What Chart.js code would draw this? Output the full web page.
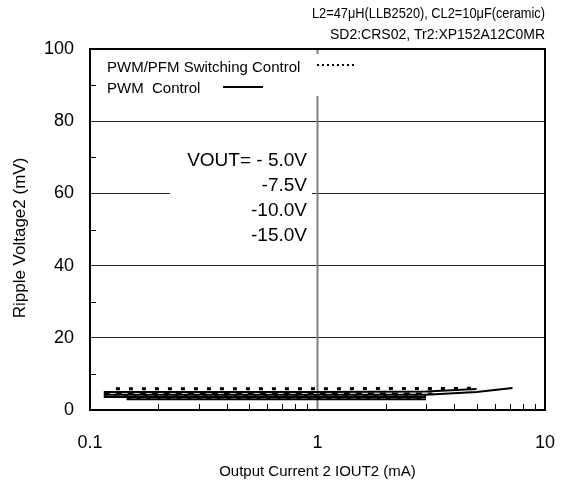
<!DOCTYPE html>
<html>
<head>
<meta charset="utf-8">
<script src="https://cdn.jsdelivr.net/npm/chart.js@4"></script>
<style>
  html, body { margin: 0; padding: 0; background: #fff; }
  #wrap { width: 563px; height: 492px; }
</style>
</head>
<body>
<div id="wrap"><canvas id="ripple" width="563" height="492"></canvas></div>
<script>
// axis ticks
const xTicks = [0.1, 1, 10];
const xMinor = [0.2, 0.3, 0.4, 0.5, 0.6, 0.7, 0.8, 0.9, 2, 3, 4, 5, 6, 7, 8, 9];
const yTicks = [0, 20, 40, 60, 80, 100];
const yMinor = [10, 30, 50, 70, 90];

// PWM control (solid)
const pwm50X = [0.115, 0.5, 1, 3.0, 5.0, 7.2];
const pwm50Y = [4.2, 4.2, 4.2, 4.2, 5.0, 6.1];
const pwm75X = [0.115, 1, 3.0, 5.0];
const pwm75Y = [5.0, 5.0, 5.1, 5.8];
const pwm100X = [0.115, 1, 3.0];
const pwm100Y = [3.6, 3.6, 3.6];
const pwm150X = [0.145, 1, 3.0];
const pwm150Y = [3.0, 3.0, 3.0];

// PWM/PFM switching control (dotted)
const pfm50X = [0.13, 1, 5.0];
const pfm50Y = [5.9, 5.9, 6.0];
const pfm75X = [0.115, 1, 3.2];
const pfm75Y = [4.6, 4.6, 4.6];
const pfm100X = [0.115, 1, 3.0];
const pfm100Y = [3.8, 3.8, 3.8];
const pfm150X = [0.145, 1, 3.0];
const pfm150Y = [3.1, 3.1, 3.1];

const headLines = ['L2=47\u03bcH(LLB2520), CL2=10\u03bcF(ceramic)', 'SD2:CRS02, Tr2:XP152A12C0MR'];
const voutLabels = ['VOUT= - 5.0V', '-7.5V', '-10.0V', '-15.0V'];

function pts(xs, ys) {
  return xs.map((x, i) => ({ x: x, y: ys[i] }));
}

function solid(label, xs, ys) {
  return { label, data: pts(xs, ys), borderColor: '#000', borderWidth: 2, pointRadius: 0, tension: 0, fill: false };
}

function dotted(label, xs, ys, w, dash) {
  return { label, data: pts(xs, ys), borderColor: '#000', borderWidth: w, borderDash: dash, pointRadius: 0, tension: 0, fill: false, borderCapStyle: 'butt' };
}

const FONT = '"Liberation Sans", Arial, sans-serif';

const decor = {
  id: 'decor',
  beforeDatasetsDraw(chart) {
    const { ctx, chartArea: a, scales: { x, y } } = chart;
    ctx.save();
    // VOUT box hides part of the 60 grid line
    ctx.fillStyle = '#fff';
    ctx.fillRect(170, 138, 142, 112);
    ctx.fillStyle = '#000';
    ctx.font = '19px ' + FONT;
    ctx.textAlign = 'right';
    ctx.textBaseline = 'middle';
    voutLabels.forEach((t, i) => ctx.fillText(t, 307, 161 + i * 25));

    // vertical line at 1 mA
    const x1 = x.getPixelForValue(1);
    ctx.strokeStyle = '#808080';
    ctx.lineWidth = 2;
    ctx.beginPath();
    ctx.moveTo(x1, a.top);
    ctx.lineTo(x1, a.bottom);
    ctx.stroke();

    // legend box
    ctx.fillStyle = '#fff';
    ctx.fillRect(100, 54, 262, 42);
    ctx.fillStyle = '#000';
    ctx.font = '15px ' + FONT;
    ctx.textAlign = 'left';
    ctx.fillText('PWM/PFM Switching Control', 107, 68);
    ctx.fillText('PWM  Control', 107, 89);
    ctx.strokeStyle = '#000';
    ctx.lineWidth = 2;
    ctx.setLineDash([2, 3]);
    ctx.beginPath();
    ctx.moveTo(317, 65);
    ctx.lineTo(354, 65);
    ctx.stroke();
    ctx.setLineDash([]);
    ctx.beginPath();
    ctx.moveTo(223, 87);
    ctx.lineTo(263, 87);
    ctx.stroke();
    ctx.restore();
  },
  afterDraw(chart) {
    const { ctx, chartArea: a, scales: { x, y } } = chart;
    ctx.save();
    ctx.strokeStyle = '#000';
    ctx.lineWidth = 1;
    ctx.beginPath();
    xMinor.forEach(v => {
      const px = Math.round(x.getPixelForValue(v)) + 0.5;
      ctx.moveTo(px, a.bottom);
      ctx.lineTo(px, a.bottom - 6);
    });
    yMinor.forEach(v => {
      const py = Math.round(y.getPixelForValue(v)) + 0.5;
      ctx.moveTo(a.left, py);
      ctx.lineTo(a.left + 6, py);
    });
    ctx.stroke();

    ctx.lineWidth = 2;
    ctx.strokeRect(a.left, a.top, a.right - a.left, a.bottom - a.top);

    ctx.fillStyle = '#000';
    ctx.font = '14px ' + FONT;
    ctx.textAlign = 'right';
    ctx.textBaseline = 'middle';
    ctx.fillText(headLines[0], 545, 14, 233);
    ctx.fillText(headLines[1], 545, 35);

    ctx.font = '15px ' + FONT;
    ctx.textAlign = 'center';
    ctx.fillText('Output Current 2 IOUT2 (mA)', (a.left + a.right) / 2, 472);
    ctx.font = '17px ' + FONT;
    ctx.translate(20, 238);
    ctx.rotate(-Math.PI / 2);
    ctx.fillText('Ripple Voltage2 (mV)', 0, 0);
    ctx.restore();
  }
};

new Chart(document.getElementById('ripple'), {
  type: 'line',
  data: {
    datasets: [
      solid('-5.0V PWM', pwm50X, pwm50Y),
      solid('-7.5V PWM', pwm75X, pwm75Y),
      solid('-10.0V PWM', pwm100X, pwm100Y),
      solid('-15.0V PWM', pwm150X, pwm150Y),
      dotted('-5.0V PWM/PFM', pfm50X, pfm50Y, 3, [4, 9]),
      dotted('-7.5V PWM/PFM', pfm75X, pfm75Y, 2, [6, 6]),
      dotted('-10.0V PWM/PFM', pfm100X, pfm100Y, 2, [4, 6]),
      dotted('-15.0V PWM/PFM', pfm150X, pfm150Y, 2, [4, 6])
    ]
  },
  options: {
    responsive: false,
    animation: false,
    devicePixelRatio: 1,
    layout: { padding: { top: 49, right: 18, left: 0, bottom: 0 } },
    plugins: { legend: { display: false }, tooltip: { enabled: false }, title: { display: false } },
    scales: {
      x: {
        type: 'logarithmic',
        min: 0.1,
        max: 10,
        afterBuildTicks: s => { s.ticks = xTicks.map(v => ({ value: v })); },
        afterFit: s => { s.height = 82; s.paddingLeft = 0; s.paddingRight = 0; },
        grid: { display: false },
        border: { display: false },
        ticks: {
          color: '#000',
          font: { size: 18, family: FONT },
          padding: 14,
          maxRotation: 0,
          autoSkip: false,
          callback: v => String(v)
        }
      },
      y: {
        min: 0,
        max: 100,
        afterBuildTicks: s => { s.ticks = yTicks.map(v => ({ value: v })); },
        afterFit: s => { s.width = 90; s.paddingTop = 0; s.paddingBottom = 0; },
        grid: {
          color: c => (c.tick.value === 0 || c.tick.value === 100) ? 'rgba(0,0,0,0)' : '#222',
          lineWidth: 1,
          drawTicks: false
        },
        border: { display: false },
        ticks: { color: '#000', font: { size: 18, family: FONT }, padding: 16 }
      }
    }
  },
  plugins: [decor]
});
</script>
</body>
</html>
